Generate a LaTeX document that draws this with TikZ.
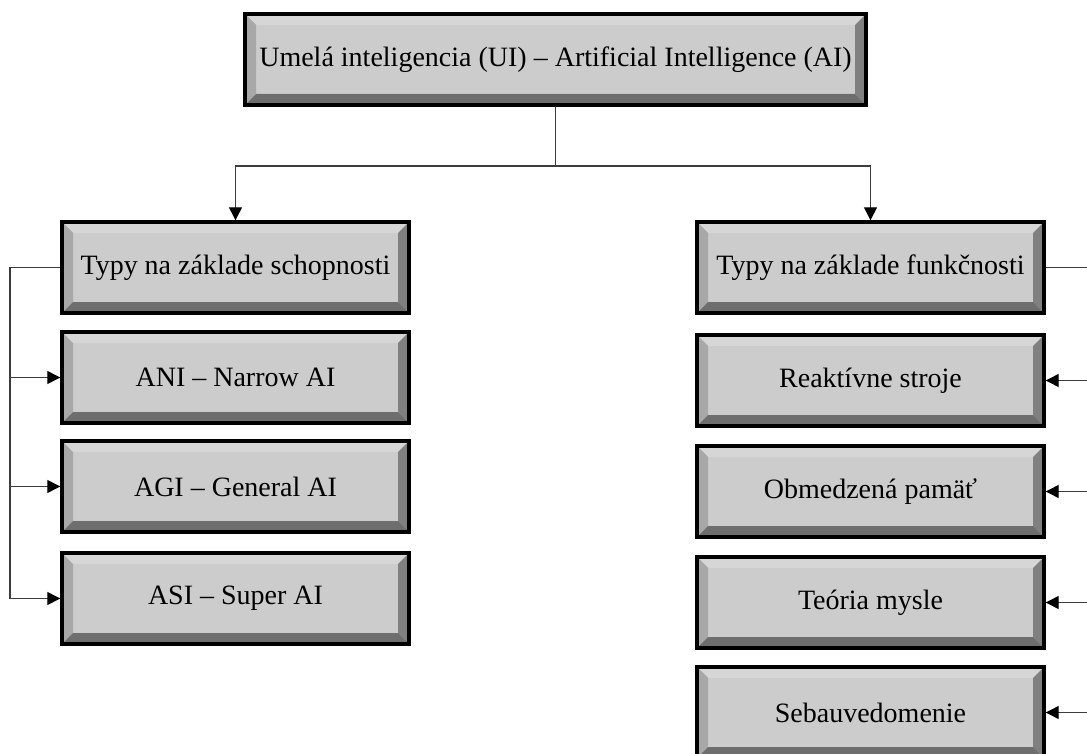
\documentclass[tikz,border=0pt]{standalone}
\usepackage{fontspec}
\setmainfont{Liberation Serif}
\usetikzlibrary{arrows.meta}
\definecolor{face}{HTML}{CCCCCC}
\definecolor{bevtop}{HTML}{D6D6D6}
\definecolor{bevleft}{HTML}{A8A8A8}
\definecolor{bevright}{HTML}{808080}
\definecolor{bevbot}{HTML}{6E6E6E}
\definecolor{wiregray}{HTML}{3C3C3C}
\tikzset{
 bevelbox/.style={draw=black,line width=3.4pt,fill=face,inner sep=0pt,
  minimum height=91pt,font=\fontsize{28}{33}\selectfont,
  path picture={
   \def\bw{11pt}
   \coordinate (pa) at (path picture bounding box.north west);
   \coordinate (pb) at (path picture bounding box.north east);
   \coordinate (pc) at (path picture bounding box.south east);
   \coordinate (pd) at (path picture bounding box.south west);
   \fill[bevtop] (pa)--(pb)--([shift={(-\bw,-\bw)}]pb)--([shift={(\bw,-\bw)}]pa)--cycle;
   \fill[bevleft] (pa)--([shift={(\bw,-\bw)}]pa)--([shift={(\bw,\bw)}]pd)--(pd)--cycle;
   \fill[bevright] (pb)--(pc)--([shift={(-\bw,\bw)}]pc)--([shift={(-\bw,-\bw)}]pb)--cycle;
   \fill[bevbot] (pd)--([shift={(\bw,\bw)}]pd)--([shift={(-\bw,\bw)}]pc)--(pc)--cycle;
  }},
 wire/.style={draw=wiregray,line width=1.3pt},
 link/.style={wire,-{Triangle[length=13pt,width=13pt,color=black]}}}

\begin{document}
\begin{tikzpicture}[x=1pt,y=-1pt]

\useasboundingbox (0,0) rectangle (1087,754);
% top
\node[bevelbox,minimum width=621pt] (ui) at (555.5,59.5)
 {Umelá inteligencia (UI) – Artificial Intelligence (AI)};
% left column
\node[bevelbox,minimum width=347pt] (schop) at (235.5,267.5) {Typy na základe schopnosti};
\node[bevelbox,minimum width=347pt] (ani) at (235.5,377.5) {ANI – Narrow AI};
\node[bevelbox,minimum width=347pt] (agi) at (235.5,486.5) {AGI – General AI};
\node[bevelbox,minimum width=347pt] (asi) at (235.5,598.5) {ASI – Super AI};
% right column
\node[bevelbox,minimum width=347pt] (funk) at (870.5,267.5) {Typy na základe funkčnosti};
\node[bevelbox,minimum width=347pt] (reak) at (870.5,380.5) {Reaktívne stroje};
\node[bevelbox,minimum width=347pt] (pamat) at (870.5,491.5) {Obmedzená pamäť};
\node[bevelbox,minimum width=347pt] (teor) at (870.5,602.5) {Teória mysle};
\node[bevelbox,minimum width=347pt] (seba) at (870.5,712.5) {Sebauvedomenie};

\coordinate (split) at (0,166);
\coordinate (lbus) at (10,0);
\coordinate (rbus) at (1092,0);

\draw[wire] (ui.south) -- (ui.south |- split);
\draw[link] (ui.south |- split) -| (schop.north);
\draw[link] (ui.south |- split) -| (funk.north);

\draw[wire] (schop.west) -- (schop.west -| lbus) -- (asi.west -| lbus);
\foreach \n in {ani,agi,asi}
 \draw[link] (\n.west -| lbus) -- (\n.west);

\draw[wire] (funk.east) -- (funk.east -| rbus) -- (seba.east -| rbus);
\foreach \n in {reak,pamat,teor,seba}
 \draw[link] (\n.east -| rbus) -- (\n.east);

\end{tikzpicture}
\end{document}
